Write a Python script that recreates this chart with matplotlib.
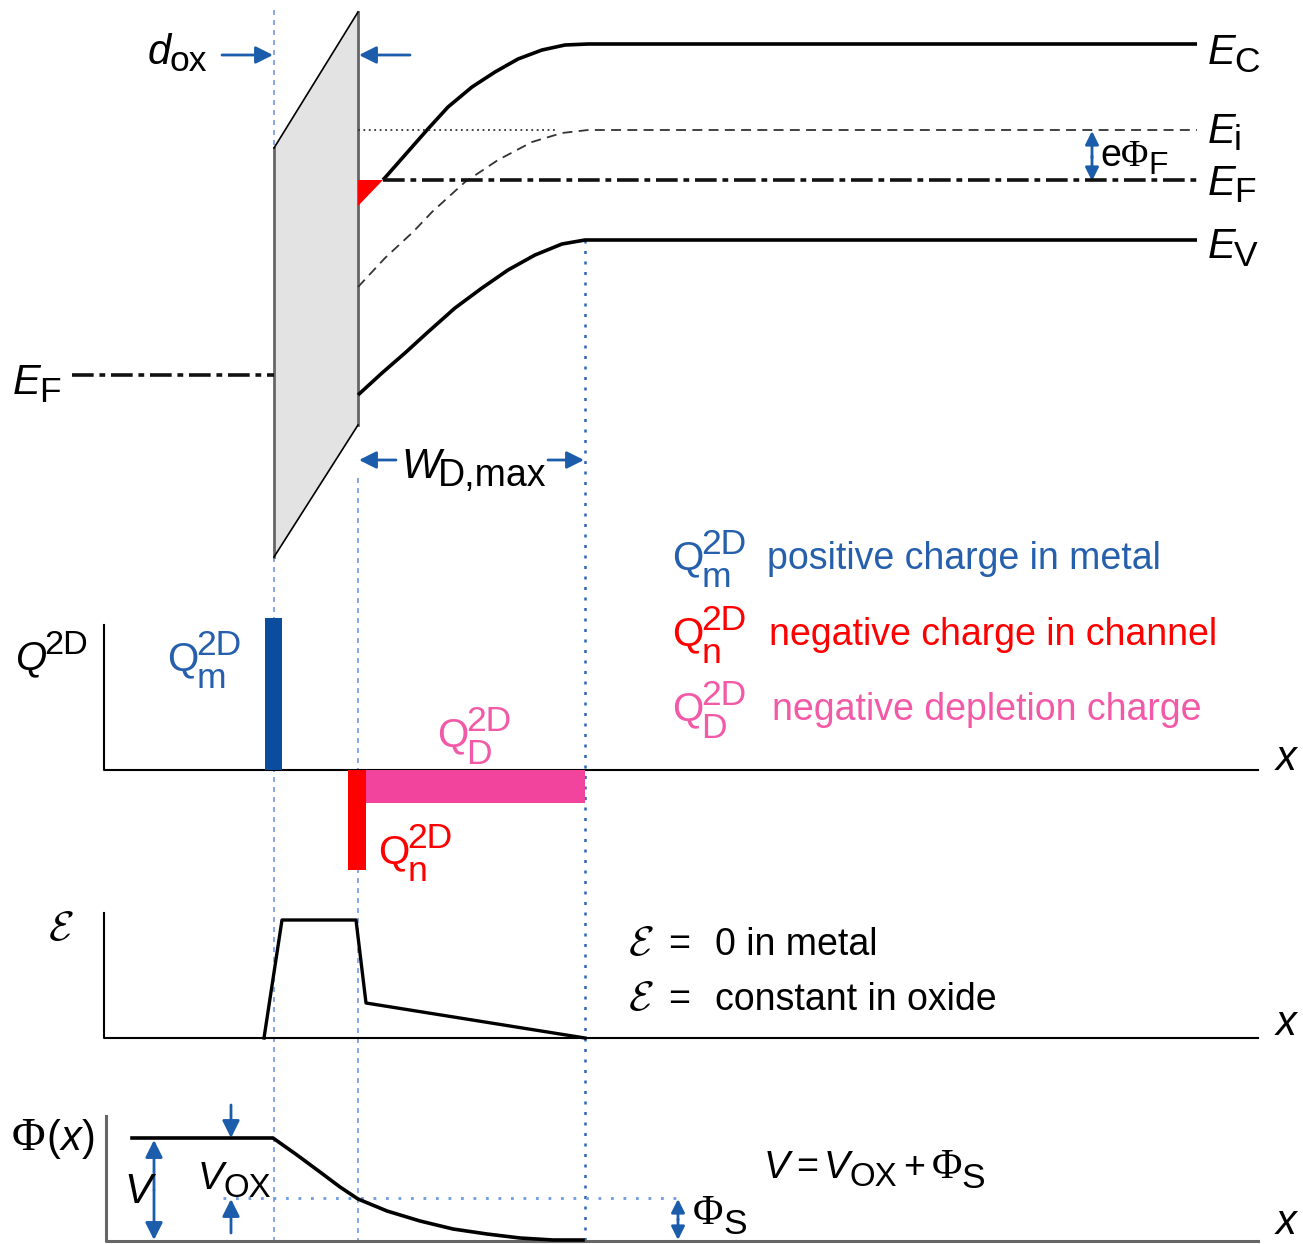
import matplotlib
matplotlib.use('Agg')
import matplotlib.pyplot as plt
from matplotlib import font_manager

avail = {f.name for f in font_manager.fontManager.ttflist}
NARROW = 'Liberation Sans Narrow' in avail
SANS = 'Liberation Sans Narrow' if NARROW else 'Liberation Sans'
SERIF = 'Liberation Serif'
FS = 32 if NARROW else 27      # running text
FB = 34 if NARROW else 30      # band / axis symbols
FQ = 33 if NARROW else 29      # Q symbols

W, H = 1303, 1244

# ---------------- data (pixel units) ----------------
oxide_x = [274, 358, 358, 274]
oxide_y = [148, 12, 425, 557]

ec_x = [358, 383, 405, 427, 448, 472, 495, 518, 542, 565, 588, 1197]
ec_y = [206, 180, 155, 130, 107, 87, 72, 59, 50, 45, 44, 44]
ev_x = [358, 382, 405, 428, 455, 482, 508, 535, 562, 585, 1197]
ev_y = [395, 373, 353, 332, 308, 288, 270, 255, 244, 240, 240]
ei_x = [358, 385, 413, 432, 465, 498, 532, 562, 588, 1197]
ei_y = [287, 258, 232, 212, 182, 160, 142, 133, 130, 130]
ei_ref_x = [358, 557]
ei_ref_y = [130, 130]
ef_semi_x = [383, 1197]
ef_semi_y = [180, 180]
ef_metal_x = [72, 274]
ef_metal_y = [375, 375]

q_axis_y = 770
qm_left, qm_width, qm_top = 265, 17, 618
qn_left, qn_width, qn_bottom = 348, 18, 870
qd_left, qd_width, qd_bottom = 358, 227, 803

e_axis_y = 1038
e_x = [264, 282, 356, 366, 585]
e_y = [1038, 920, 920, 1003, 1038]

phi_axis_y = 1241
phi_x = [132, 273, 297, 320, 340, 358, 387, 420, 453, 487, 520, 553, 583]
phi_y = [1138, 1138, 1155, 1172, 1187, 1199, 1211, 1221, 1229, 1234, 1238, 1240, 1240]
phi_s_level = 1198

legend_labels = ['positive charge in metal', 'negative charge in channel',
                 'negative depletion charge']
legend_subs = ['m', 'n', 'D']

# ---------------- styles ----------------
BLUE = '#1b5cab'
BLUE_T = '#2660ad'
LBLUE = '#6f9be0'
DBLUE = '#2d65b9'
RED = '#ff0000'
PINK_BAR = '#f2449c'
PINK_T = '#f25aa8'
GRAY = '#666666'

fig = plt.figure(figsize=(W / 100, H / 100), dpi=100)
ax = fig.add_axes([0, 0, 1, 1])
ax.set_xlim(0, W)
ax.set_ylim(H, 0)
ax.axis('off')
renderer = fig.canvas.get_renderer()


def put(x, y, s, size=FS, color='black', style='normal', family=None, **kw):
    t = ax.text(x, y, s, fontsize=size, color=color, style=style,
                family=family if family else SANS, ha='left', va='baseline', **kw)
    return t.get_window_extent(renderer).x1


def sym(x, y, base, sub=None, sup=None, size=FB, color='black', style='italic',
        family=None, ss=0.85, sub_dy=0.18, sup_dy=0.33, dx=-2):
    em = size * 100 / 72
    xe = put(x, y, base, size, color, style, family)
    end = xe
    if sup:
        end = max(end, put(xe + dx, y - sup_dy * em, sup, size * ss, color))
    if sub:
        end = max(end, put(xe + dx, y + sub_dy * em, sub, size * ss, color))
    return end


def arrow(x0, y0, x1, y1, both=False, lw=2.0, ms=26):
    ax.annotate('', xy=(x1, y1), xytext=(x0, y0),
                arrowprops=dict(arrowstyle='<|-|>' if both else '-|>', color=BLUE,
                                lw=lw, shrinkA=0, shrinkB=0, mutation_scale=ms))


# ---------------- blue guide lines ----------------
ax.plot([274, 274], [10, 148], color=LBLUE, lw=1.2, ls=(0, (3, 3)))
ax.plot([274, 274], [557, phi_axis_y], color=LBLUE, lw=1.2, ls=(0, (3, 3)))
ax.plot([358, 358], [478, phi_axis_y], color=LBLUE, lw=1.2, ls=(0, (3, 3)))
ax.plot([585, 585], [240, phi_axis_y], color=DBLUE, lw=1.8, ls=(0, (1.2, 3)))

# ---------------- oxide ----------------
ax.fill(oxide_x, oxide_y, color='#e3e3e3', lw=0, zorder=2)
ax.plot([274, 274], [148, 557], color=GRAY, lw=2, zorder=3)
ax.plot([358, 358], [12, 425], color=GRAY, lw=2, zorder=3)
ax.plot([274, 358], [148, 12], color='black', lw=1.2, zorder=3)
ax.plot([274, 358], [557, 425], color='black', lw=1.2, zorder=3)

# ---------------- bands ----------------
ax.fill([ec_x[0], ec_x[1], ec_x[0]], [ef_semi_y[0], ef_semi_y[0], ec_y[0]],
        color=RED, lw=0, zorder=3)
ax.plot(ec_x[1:], ec_y[1:], color='black', lw=2.6, solid_capstyle='butt',
        solid_joinstyle='round', zorder=4)
ax.plot(ev_x, ev_y, color='black', lw=2.6, solid_capstyle='butt',
        solid_joinstyle='round', zorder=4)
ax.plot(ei_x, ei_y, color='#333333', lw=1.3, ls=(0, (5.5, 3.5)), zorder=4)
ax.plot(ei_ref_x, ei_ref_y, color='#333333', lw=1.3, ls=(0, (1, 2)), zorder=4)
ax.plot(ef_semi_x, ef_semi_y, color='#111111', lw=2.6, ls=(0, (6, 1.6, 1.6, 1.6)), zorder=4)
ax.plot(ef_metal_x, ef_metal_y, color='#111111', lw=2.6, ls=(0, (6, 1.6, 1.6, 1.6)), zorder=4)

# band labels
sym(1208, 64, 'E', 'C')
sym(1208, 143, 'E', 'i')
sym(1208, 195, 'E', 'F')
sym(1208, 258, 'E', 'V')
sym(13, 394, 'E', 'F')
sym(148, 64, 'd', 'ox', sub_dy=0.17)
arrow(222, 55, 273, 55)
arrow(410, 55, 359, 55)

# e Phi_F
arrow(1092, 158, 1092, 131, ms=20)
arrow(1092, 156, 1092, 181, ms=20)
xe = put(1100, 166, 'e')
xe = put(xe, 166, 'Φ', family=SERIF)
put(xe, 166 + 0.2 * FS * 100 / 72, 'F', FS * 0.85)

# W_D,max
arrow(396, 460, 359, 460)
arrow(548, 460, 584, 460)
sym(401, 478, 'W', 'D,max', size=30, ss=0.9, sub_dy=0.2)

# ---------------- charge panel ----------------
ax.plot([104, 104, 1258], [625, q_axis_y, q_axis_y], color='black', lw=1.5, zorder=5)
ax.bar(qm_left, qm_top - q_axis_y, width=qm_width, bottom=q_axis_y, align='edge',
       color='#0b4c9f', lw=0, zorder=6)
ax.bar(qd_left, qd_bottom - q_axis_y, width=qd_width, bottom=q_axis_y, align='edge',
       color=PINK_BAR, lw=0, zorder=6)
ax.bar(qn_left, qn_bottom - q_axis_y, width=qn_width, bottom=q_axis_y, align='edge',
       color=RED, lw=0, zorder=6)
sym(15, 669, 'Q', sup='2D', size=FQ, ss=0.85, sup_dy=0.38)
put(1276, 770, 'x', FB, style='italic')

qkw = dict(size=FQ, style='normal', ss=0.88, sub_dy=0.45, sup_dy=0.38)
sym(167, 670, 'Q', 'm', '2D', color=BLUE_T, **qkw)
sym(437, 746, 'Q', 'D', '2D', color=PINK_T, **qkw)
sym(378, 863, 'Q', 'n', '2D', color=RED, **qkw)

leg_colors = [BLUE_T, RED, PINK_T]
leg_y = [569, 645, 720]
leg_text_x = [767, 769, 772]
for lab, sb, c, yy, tx in zip(legend_labels, legend_subs, leg_colors, leg_y, leg_text_x):
    sym(672, yy, 'Q', sb, '2D', color=c, **qkw)
    put(tx, yy, lab, color=c)

# ---------------- field panel ----------------
ax.plot([104, 104, 1258], [913, e_axis_y, e_axis_y], color='black', lw=1.5, zorder=5)
ax.plot(e_x, e_y, color='black', lw=2.4, zorder=6)
put(48, 940, r'$\mathcal{E}$', 30, math_fontfamily='cm')
put(628, 955, r'$\mathcal{E}$', 30, math_fontfamily='cm')
put(668, 955, '=')
put(715, 955, '0 in metal')
put(628, 1010, r'$\mathcal{E}$', 30, math_fontfamily='cm')
put(668, 1010, '=')
put(715, 1010, 'constant in oxide')
put(1276, 1035, 'x', FB, style='italic')

# ---------------- potential panel ----------------
ax.plot([106, 106, 1258], [1116, phi_axis_y, phi_axis_y], color=GRAY, lw=2.2, zorder=5)
ax.plot([223, 680], [phi_s_level, phi_s_level], color=LBLUE, lw=2.0, ls=(0, (1, 3.5)), zorder=4)
ax.plot(phi_x, phi_y, color='black', lw=2.6, solid_joinstyle='round', zorder=6)
xe = put(12, 1150, 'Φ', FB * 1.1, family=SERIF)
xe = put(xe + 1, 1150, '(', FB)
xe = put(xe, 1150, 'x', FB, style='italic')
put(xe, 1150, ')', FB)
arrow(154, 1190, 154, 1140)
arrow(154, 1190, 154, 1240)
put(124, 1203, 'V', FB, style='italic')
arrow(231, 1105, 231, 1138)
arrow(231, 1233, 231, 1199)
sym(198, 1189, 'V', 'OX', size=28, ss=0.85, sub_dy=0.2, dx=0)
arrow(678, 1220, 678, 1199, ms=20)
arrow(678, 1219, 678, 1240, ms=20)
xe = put(693, 1224, 'Φ', FB, family=SERIF)
put(xe, 1234, 'S', FB * 0.85)
xe = put(764, 1178, 'V', 28, style='italic')
xe = put(xe + 6, 1178, '=', FS)
xe = sym(xe + 6, 1178, 'V', 'OX', size=28, sub_dy=0.2, dx=0)
xe = put(xe + 6, 1178, '+', FS)
xe = put(xe + 6, 1178, 'Φ', FB, family=SERIF)
put(xe, 1188, 'S', FB * 0.85)
put(1276, 1234, 'x', FB, style='italic')

fig.savefig('out.png', dpi=100, facecolor='white')
